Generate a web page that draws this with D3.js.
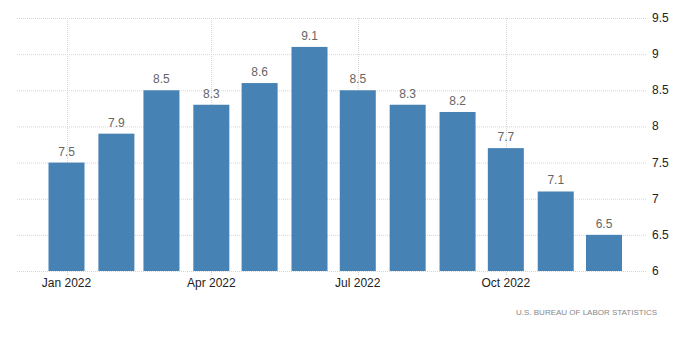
<!DOCTYPE html>
<html><head><meta charset="utf-8">
<script src="https://cdn.jsdelivr.net/npm/d3@7"></script>
<style>body{margin:0;background:#fff;}svg{display:block;font-family:"Liberation Sans",Arial,sans-serif;}</style>
</head><body><svg id="c" width="700" height="361"></svg>
<script>
const months = ["2022-01","2022-02","2022-03","2022-04","2022-05","2022-06","2022-07","2022-08","2022-09","2022-10","2022-11","2022-12"];
const values = [7.5,7.9,8.5,8.3,8.6,9.1,8.5,8.3,8.2,7.7,7.1,6.5];
const yTicks = [6,6.5,7,7.5,8,8.5,9,9.5];
const xTickMonths = ["2022-01","2022-04","2022-07","2022-10"];
const source = "U.S. BUREAU OF LABOR STATISTICS";

const parse = d3.timeParse("%Y-%m");
const dates = months.map(parse);
const svg = d3.select("#c");
const x = d3.scaleTime().domain([dates[0], dates[dates.length-1]]).range([66.5, 604]);
const y = d3.scaleLinear().domain([6, 9.5]).range([271, 18]);
const gridL = 17, gridR = 647;
const barW = 36;

// horizontal grid
svg.append("g").selectAll("line").data(yTicks).join("line")
  .attr("x1", gridL).attr("x2", gridR)
  .attr("y1", d => y(d) + 0.5).attr("y2", d => y(d) + 0.5)
  .attr("stroke", "#d6d6d6").attr("stroke-dasharray", "1,1");
// vertical grid
const xt = xTickMonths.map(parse);
svg.append("g").selectAll("line").data(xt).join("line")
  .attr("x1", d => Math.round(x(d)) + 0.5).attr("x2", d => Math.round(x(d)) + 0.5)
  .attr("y1", 18).attr("y2", 275)
  .attr("stroke", "#d6d6d6").attr("stroke-dasharray", "1,1");

// bars
svg.append("g").selectAll("rect").data(values).join("rect")
  .attr("x", (d, i) => x(dates[i]) - barW / 2)
  .attr("width", barW)
  .attr("y", d => y(d))
  .attr("height", d => y(6) - y(d))
  .attr("fill", "#4682b4");

// value labels
svg.append("g").selectAll("text").data(values).join("text")
  .attr("x", (d, i) => x(dates[i]))
  .attr("y", d => y(d) - 7)
  .attr("text-anchor", "middle")
  .attr("font-size", 12).attr("fill", "#666")
  .text(d => d3.format(".1f")(d));

// y axis labels
svg.append("g").selectAll("text").data(yTicks).join("text")
  .attr("x", 652).attr("y", d => y(d) + 4)
  .attr("font-size", 12).attr("fill", "#222")
  .text(d => d3.format("~g")(d));

// x axis labels
const fmt = d3.timeFormat("%b %Y");
svg.append("g").selectAll("text").data(xt).join("text")
  .attr("x", d => x(d)).attr("y", 287)
  .attr("text-anchor", "middle")
  .attr("font-size", 12).attr("fill", "#222")
  .text(d => fmt(d));

// source
svg.append("text")
  .attr("x", 516).attr("y", 315)
  .attr("font-size", 8).attr("fill", "#888")
  .attr("textLength", 141).attr("lengthAdjust", "spacing")
  .text(source);
</script></body></html>
